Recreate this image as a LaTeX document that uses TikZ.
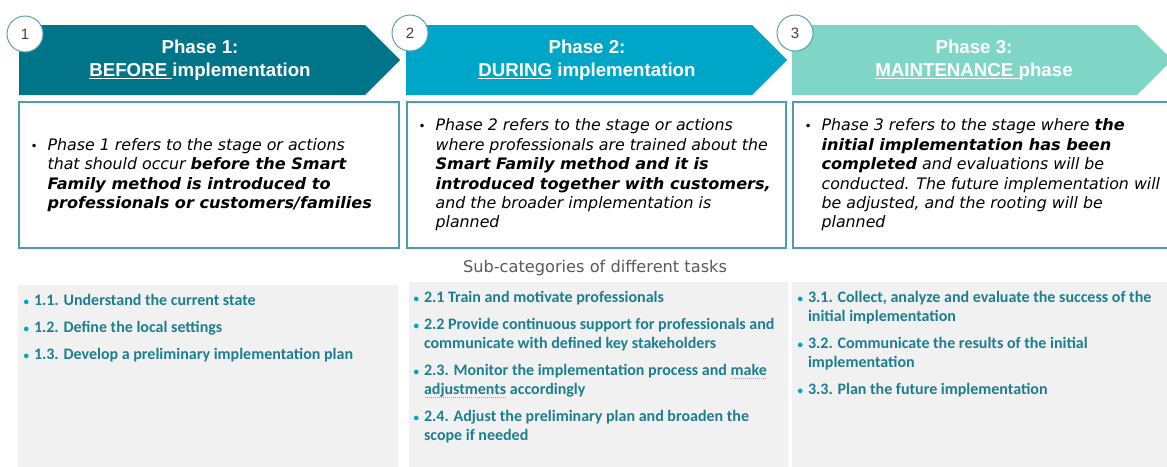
\documentclass[tikz,border=0pt]{standalone}
\usepackage{fontspec}
\setmainfont{DejaVu Sans}[BoldItalicFeatures={FakeStretch=1.02}]
\newfontfamily\headfont{Liberation Sans}
\newfontfamily\taskfont{Carlito}
\usetikzlibrary{positioning}

\definecolor{phaseA}{RGB}{0,117,138}
\definecolor{phaseB}{RGB}{0,166,200}
\definecolor{phaseC}{RGB}{127,213,198}
\definecolor{boxline}{RGB}{75,158,172}
\definecolor{ringline}{RGB}{95,160,170}
\definecolor{numgray}{RGB}{64,64,64}
\definecolor{taskgray}{RGB}{241,241,241}
\definecolor{tasktext}{RGB}{28,126,143}
\definecolor{dotblue}{RGB}{0,166,200}
\definecolor{subgray}{RGB}{89,89,89}
\definecolor{spellmark}{RGB}{205,160,90}

% underline with a thick bar
\newcommand{\headul}[1]{\setbox0\hbox{#1}\rlap{\rule[-3pt]{\wd0}{1.6pt}}\box0\relax}
% dotted mark under a word
\newcommand{\dotmark}[1]{\setbox0\hbox{#1}\rlap{\textcolor{spellmark}{\raisebox{-4pt}{\hbox to \wd0{\xleaders\hbox to 2pt{\hss\rule{1pt}{1pt}\hss}\hfill}}}}\box0\relax}
\newcommand{\descdot}{\llap{{\fontsize{12}{12}\selectfont\upshape\mdseries •}\hspace{10pt}}}
\newcommand{\taskdot}{\llap{\textcolor{dotblue}{\fontsize{11}{11}\selectfont\textbullet}\hspace{5pt}}}

\begin{document}
\begin{tikzpicture}[x=1pt,y=-1pt,
  descbox/.style={draw=boxline,line width=1.2pt,fill=white,minimum height=146pt,inner sep=0pt},
  taskbox/.style={fill=taskgray,inner sep=0pt},
  numring/.style={circle,draw=ringline,fill=white,line width=1pt,minimum size=36pt,inner sep=0pt,text=numgray,font=\headfont\fontsize{15}{15}\selectfont},
  headtext/.style={align=center,text=white,font=\headfont\bfseries\fontsize{18.7}{23}\selectfont},
  desctext/.style={align=left,inner sep=0pt,font=\fontsize{15.8}{19.4}\selectfont\itshape},
  tasktext/.style={align=left,inner sep=0pt,text=tasktext,font=\taskfont\bfseries\fontsize{16}{19}\selectfont}]
\useasboundingbox (0,0) rectangle (1167,466);

% phase arrows
\fill[phaseA] (19,25) -- (365,25) -- (400,60) -- (365,95) -- (19,95) -- cycle;
\fill[phaseB] (406,25) -- (752,25) -- (787,60) -- (752,95) -- (406,95) -- cycle;
\fill[phaseC] (792,25) -- (1137,25) -- (1172,60) -- (1137,95) -- (792,95) -- cycle;

\node[headtext] (head1) at (200,60) {Phase 1:\\\headul{BEFORE }implementation};
\node[headtext] (head2) at (587,60) {Phase 2:\\\headul{DURING} implementation};
\node[headtext] (head3) at (974,60) {Phase 3:\\\headul{MAINTENANCE }phase};

\node[numring] (num1) at (25,34) {1};
\node[numring] (num2) at (410,33) {2};
\node[numring] (num3) at (795,33) {3};

% descriptions
\node[descbox,minimum width=380pt] (desc1) at (209,175) {};
\node[descbox,minimum width=379pt] (desc2) at (596.5,175) {};
\node[descbox,minimum width=387pt] (desc3) at (986.5,175) {};

\node[desctext,right=29pt of desc1.west] (txt1) {\descdot Phase 1 refers to the stage or actions\\
that should occur \textbf{before the Smart}\\
\textbf{Family method is introduced to}\\
\textbf{professionals or customers/families}};
\node[desctext,right=29pt of desc2.west] (txt2) {\descdot Phase 2 refers to the stage or actions\\
where professionals are trained about the\\
\textbf{Smart Family method and it is}\\
\textbf{introduced together with customers,}\\
and the broader implementation is\\
planned};
\node[desctext,right=29pt of desc3.west] (txt3) {\descdot Phase 3 refers to the stage where \textbf{the}\\
\textbf{initial implementation has been}\\
\textbf{completed} and evaluations will be\\
conducted. The future implementation will\\
be adjusted, and the rooting will be\\
planned};

\node[text=subgray,font=\fontsize{16.2}{18}\selectfont] (subtitle) at (595,268) {Sub-categories of different tasks};

% task lists
\node[taskbox,minimum width=380pt,minimum height=185pt] (tasks1) at (208,377.5) {};
\node[taskbox,minimum width=379pt,minimum height=188pt] (tasks2) at (598.5,376) {};
\node[taskbox,minimum width=388pt,minimum height=188pt] (tasks3) at (986,376) {};

\node[tasktext,below right=9pt and 16pt of tasks1.north west] (list1) {\taskdot 1.1. Understand the current state\\[8pt]
\taskdot 1.2. Define the local settings\\[8pt]
\taskdot 1.3. Develop a preliminary implementation plan};
\node[tasktext,below right=9pt and 15pt of tasks2.north west] (list2) {\taskdot 2.1 Train and motivate professionals\\[8pt]
\taskdot 2.2 Provide continuous support for professionals and\\
communicate with defined key stakeholders\\[8pt]
\taskdot 2.3. Monitor the implementation process and \dotmark{make}\\
\dotmark{adjustments} accordingly\\[8pt]
\taskdot 2.4. Adjust the preliminary plan and broaden the\\
scope if needed};
\node[tasktext,below right=9pt and 16pt of tasks3.north west] (list3) {\taskdot 3.1. Collect, analyze and evaluate the success of the\\
initial implementation\\[8pt]
\taskdot 3.2. Communicate the results of the initial\\
implementation\\[8pt]
\taskdot 3.3. Plan the future implementation};
\end{tikzpicture}
\end{document}
